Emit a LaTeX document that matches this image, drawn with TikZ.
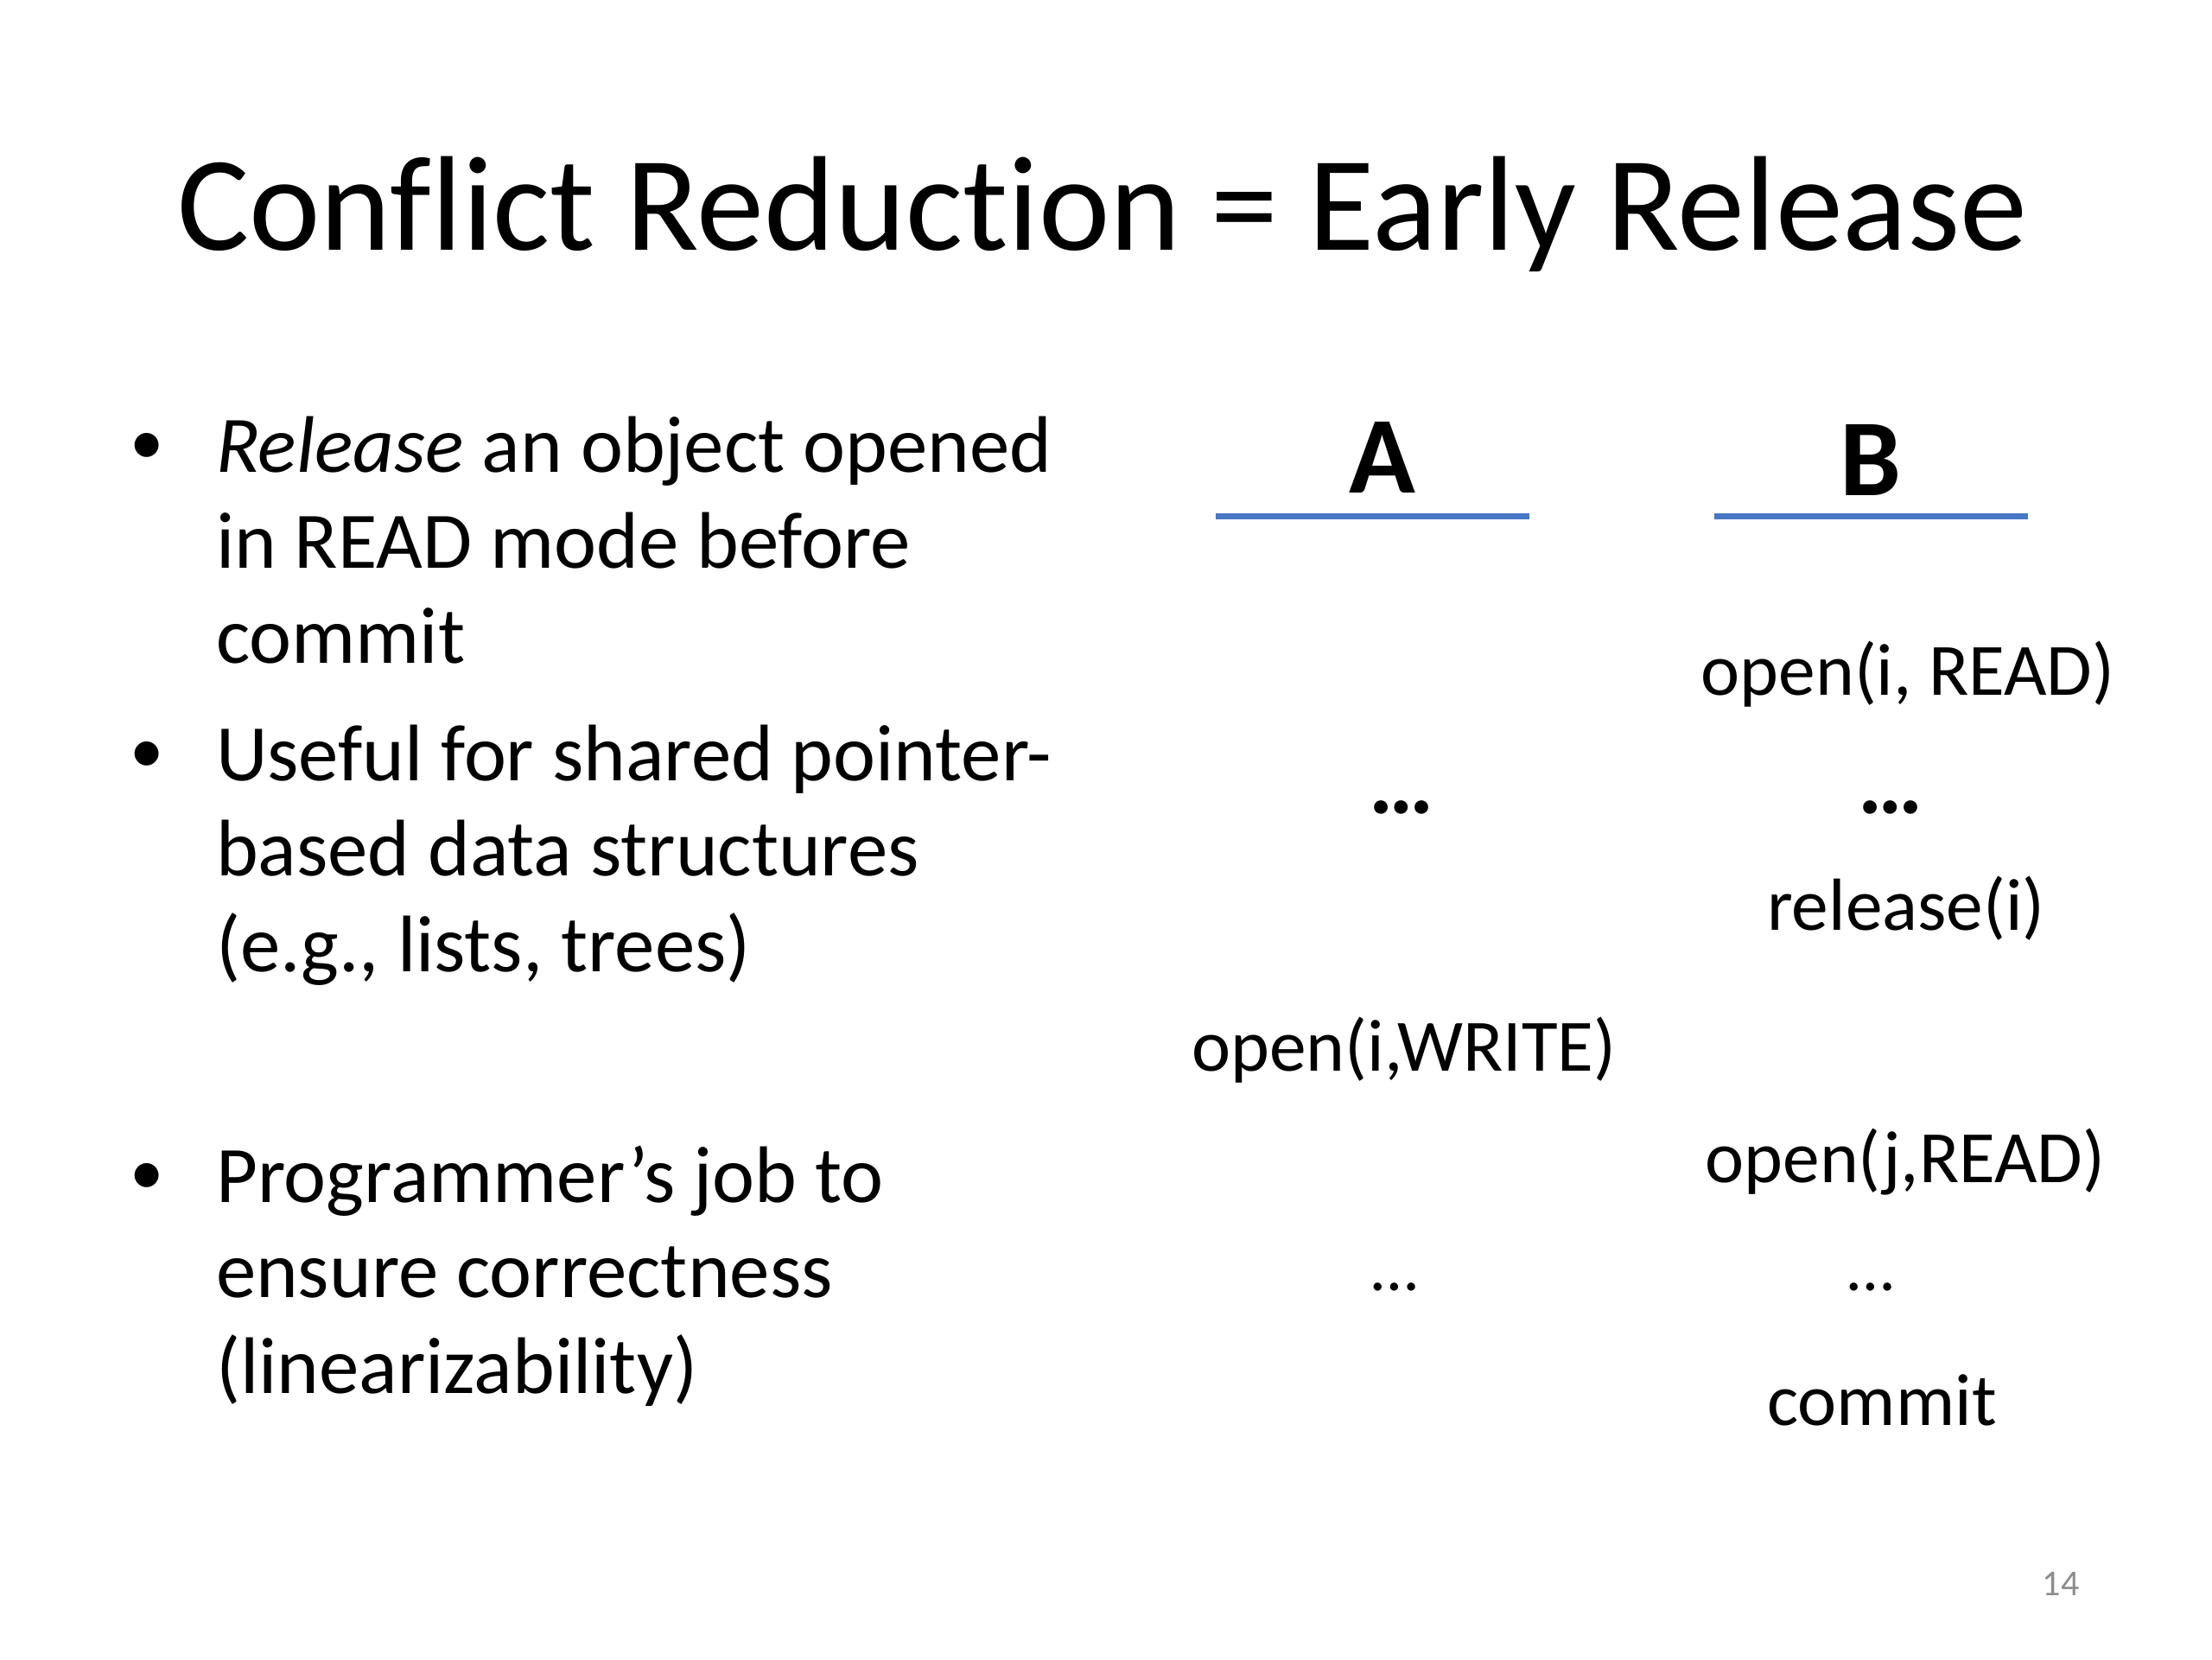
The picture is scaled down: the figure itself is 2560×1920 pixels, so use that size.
\documentclass[tikz,border=0pt]{standalone}
\usepackage{fontspec}
\setmainfont{Carlito}[Ligatures=NoCommon]
\usetikzlibrary{positioning}
\definecolor{lineblue}{RGB}{70,120,195}
\definecolor{pagegray}{RGB}{140,140,140}

\begin{document}
\begin{tikzpicture}[x=0.01cm,y=-0.01cm,
    every node/.style={inner sep=0pt,outer sep=0pt},
    title/.style={anchor=base,font=\fontsize{44.4}{53}\selectfont},
    body/.style={anchor=base west,font=\fontsize{26.4}{31}\selectfont},
    bullet/.style={anchor=base,font=\fontsize{22.4}{27}\selectfont},
    head/.style={anchor=base,font=\fontsize{36}{43}\selectfont\bfseries},
    op/.style={anchor=base,font=\fontsize{24.3}{29}\selectfont},
    bigdots/.style={anchor=base,font=\fontsize{30}{36}\selectfont\bfseries},
    smalldots/.style={anchor=base,font=\fontsize{22}{26}\selectfont},
    rule/.style={draw=lineblue,line width=2pt}]
    \useasboundingbox (0,0) rectangle (2560,1920);
    % Title
    \node[title] (title) at (1276,289) {Conflict Reduction = Early Release};
    % Bullets
    \foreach \y/\name in {546/b1,903/b2,1391/b3}
        \node[bullet] (\name) at (170,\y-9) {•};
    % Bullet text, one node per line
    \foreach \y/\name/\txt in {546/l1/{\emph{Release} an object opened},
                               657/l2/{in READ mode before},
                               767/l3/{commit},
                               903/l4/{Useful for shared pointer-},
                               1013/l5/{based data structures},
                               1124/l6/{(e.g., lists, trees)},
                               1391/l7/{Programmer’s job to},
                               1501/l8/{ensure correctness},
                               1612/l9/{(linearizability)}}
        \node[body] (\name) at (250,\y) {\txt};
    % Column heads
    \node[head] (A) at (1600,570) {A};
    \node[head] (B) at (2165,573) {B};
    \coordinate (ruleA0) at (1407,597);
    \coordinate (ruleA1) at (1770,597);
    \coordinate (ruleB0) at (1984,597);
    \coordinate (ruleB1) at (2347,597);
    \draw[rule] (ruleA0) -- (ruleA1);
    \draw[rule] (ruleB0) -- (ruleB1);
    % Operations of A and B
    \node[op] (openRi) at (2208,804) {open(i, READ)};
    \node[bigdots] (dotsA1) at (1622,941) {…};
    \node[bigdots] (dotsB1) at (2188,941) {…};
    \node[op] (releaseI) at (2206,1076) {release(i)};
    \node[op] (openWi) at (1625,1239) {open(i,WRITE)};
    \node[op] (openRj) at (2205,1368) {open(j,READ)};
    \node[smalldots] (dotsA2) at (1614,1493) {…};
    \node[smalldots] (dotsB2) at (2165,1493) {…};
    \node[op] (commit) at (2178,1649) {commit};
    % Slide number
    \node[anchor=base,font=\fontsize{12}{14}\selectfont,text=pagegray] (page) at (2385,1846) {14};
\end{tikzpicture}
\end{document}
